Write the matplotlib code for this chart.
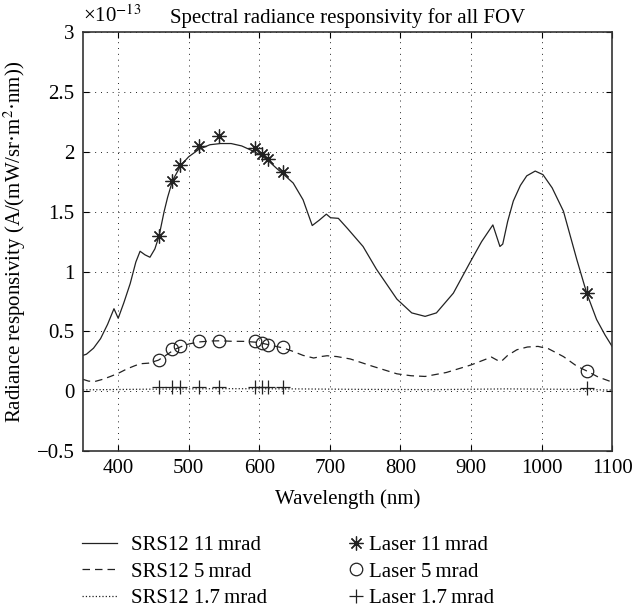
import matplotlib
matplotlib.use("Agg")
import matplotlib.pyplot as plt

plt.rcParams['font.family'] = ['Liberation Serif', 'DejaVu Serif']
plt.rcParams['mathtext.fontset'] = 'stix'

# SRS12 curves (units of 1e-13 A/(mW/sr m^2 nm))
wl_11 = [350, 355, 365, 375, 385, 394, 400, 408, 417, 425, 431, 438, 445, 452,
         458, 465, 470, 477, 489, 500, 514, 530, 545, 560, 575, 590, 600, 612,
         625, 633, 648, 662, 675, 685, 695, 701, 712, 725, 747, 766, 795, 816,
         835, 851, 875, 898, 915, 931, 936, 941, 945, 952, 960, 970, 979, 991,
         1002, 1015, 1031, 1050, 1064, 1078, 1090, 1100]
srs_11 = [0.30, 0.31, 0.36, 0.44, 0.56, 0.69, 0.61, 0.74, 0.90, 1.08, 1.17, 1.14,
          1.12, 1.19, 1.30, 1.50, 1.62, 1.76, 1.89, 1.96, 2.02, 2.06, 2.07, 2.07,
          2.05, 2.01, 1.98, 1.93, 1.86, 1.82, 1.74, 1.60, 1.385, 1.43, 1.48, 1.45,
          1.445, 1.36, 1.21, 1.02, 0.77, 0.655, 0.626, 0.655, 0.82, 1.07, 1.25,
          1.39, 1.30, 1.21, 1.23, 1.42, 1.59, 1.72, 1.80, 1.84, 1.81, 1.70, 1.505,
          1.10, 0.82, 0.60, 0.47, 0.375]

wl_5 = [350, 358, 367, 378, 389, 400, 412, 422, 431, 443, 457, 470, 480, 490, 500,
        514, 530, 545, 560, 580, 595, 605, 620, 635, 648, 662, 677, 687, 696, 710,
        729, 760, 795, 815, 835, 865, 900, 929, 937, 943, 952, 965, 980, 995, 1010,
        1031, 1050, 1064, 1080, 1100]
srs_5 = [0.10, 0.085, 0.082, 0.10, 0.124, 0.15, 0.186, 0.21, 0.23, 0.235, 0.26,
         0.31, 0.35, 0.375, 0.395, 0.412, 0.42, 0.422, 0.418, 0.417, 0.41, 0.40,
         0.38, 0.36, 0.333, 0.30, 0.278, 0.29, 0.297, 0.29, 0.27, 0.21, 0.146,
         0.13, 0.124, 0.157, 0.22, 0.286, 0.26, 0.25, 0.30, 0.347, 0.37, 0.375,
         0.355, 0.29, 0.21, 0.17, 0.12, 0.077]

wl_17 = [350, 450, 550, 650, 750, 850, 950, 1050, 1100]
srs_17 = [0.012, 0.018, 0.022, 0.02, 0.016, 0.014, 0.02, 0.016, 0.01]

# laser calibration points
laser_wl = [457.9, 476.5, 488, 514.5, 543.5, 594, 604, 612, 633, 1064]
laser_11 = [1.30, 1.76, 1.89, 2.05, 2.13, 2.035, 1.98, 1.94, 1.83, 0.82]
laser_5 = [0.264, 0.356, 0.381, 0.417, 0.423, 0.423, 0.403, 0.389, 0.37, 0.166]
laser_17 = [0.035, 0.035, 0.035, 0.035, 0.035, 0.035, 0.035, 0.035, 0.035, 0.025]

xticks = [400, 500, 600, 700, 800, 900, 1000, 1100]
yticks = [-0.5, 0, 0.5, 1, 1.5, 2, 2.5, 3]
ytick_labels = ['\u22120.5', '0', '0.5', '1', '1.5', '2', '2.5', '3']

fs = 15
fig = plt.figure(figsize=(6.33, 6.08), dpi=100)
ax = fig.add_axes([0.131, 0.258, 0.836, 0.689])

k = '#222222'
l1, = ax.plot(wl_11, srs_11, '-', color=k, lw=0.9, label='SRS12 11\u2009mrad')
l2, = ax.plot(wl_5, srs_5, '--', color=k, lw=0.9, dashes=(6, 4), label='SRS12 5\u2009mrad')
l3, = ax.plot(wl_17, srs_17, ':', color=k, lw=0.9, label='SRS12 1.7\u2009mrad')
m1, = ax.plot(laser_wl, laser_11, ls='none', marker=(8, 2, 0), ms=10, mec=k, mew=0.9,
              label='Laser 11\u2009mrad')
m2, = ax.plot(laser_wl, laser_5, ls='none', marker='o', ms=9, mfc='none', mec=k,
              mew=0.9, label='Laser 5\u2009mrad')
m3, = ax.plot(laser_wl, laser_17, ls='none', marker='+', ms=10, mec=k, mew=0.9,
              label='Laser 1.7\u2009mrad')

ax.set_xlim(350, 1100)
ax.set_ylim(-0.5, 3)
ax.set_xticks(xticks)
ax.set_yticks(yticks)
ax.set_yticklabels(ytick_labels)
ax.grid(True, ls=(0, (1, 5)), color=k, lw=0.7)
ax.tick_params(direction='in', top=True, right=True, labelsize=fs, length=4,
               width=0.8, pad=6)
for s in ax.spines.values():
    s.set_linewidth(1.2)
    s.set_color('#333333')

ax.set_xlabel('Wavelength (nm)', fontsize=fs, labelpad=8)
ax.set_ylabel('Radiance responsivity (A/(mW/sr\u00b7m$^2$\u00b7nm))', fontsize=fs,
              labelpad=6)
ax.set_title('Spectral radiance responsivity for all FOV', fontsize=fs, pad=7)
ax.text(0.0, 1.012, '\u00d710$^{-13}$', transform=ax.transAxes, fontsize=fs,
        ha='left', va='bottom')

leg1 = ax.legend(handles=[l1, l2, l3], loc='upper left',
                 bbox_to_anchor=(-0.002, -0.202), frameon=False, fontsize=fs,
                 handlelength=1.7, handletextpad=0.65, labelspacing=0.32,
                 borderpad=0, borderaxespad=0)
ax.add_artist(leg1)
ax.legend(handles=[m1, m2, m3], loc='upper left',
          bbox_to_anchor=(0.5, -0.202), frameon=False, fontsize=fs,
          handlelength=0.8, handletextpad=0.25, labelspacing=0.32,
          borderpad=0, borderaxespad=0)

fig.savefig('out.png', dpi=100)
